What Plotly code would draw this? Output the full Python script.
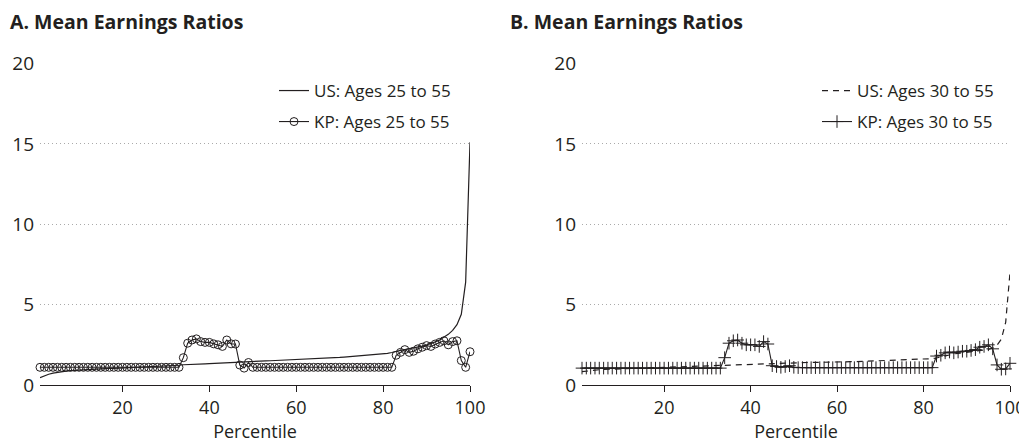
import plotly.graph_objects as go

percentile = list(range(1, 101))

us_25_55 = [0.45, 0.58, 0.67, 0.74, 0.79, 0.83, 0.86, 0.89, 0.91, 0.93,
            0.95, 0.97, 0.98, 1.0, 1.01, 1.02, 1.03, 1.04, 1.05, 1.06,
            1.07, 1.08, 1.09, 1.1, 1.11, 1.13, 1.14, 1.15, 1.16, 1.18,
            1.19, 1.21, 1.23, 1.26, 1.28, 1.29, 1.3, 1.31, 1.32, 1.33,
            1.35, 1.36, 1.37, 1.38, 1.4, 1.41, 1.42, 1.44, 1.45, 1.46,
            1.47, 1.48, 1.5, 1.51, 1.52, 1.53, 1.55, 1.56, 1.57, 1.58,
            1.6, 1.61, 1.62, 1.64, 1.65, 1.66, 1.68, 1.69, 1.71, 1.72,
            1.74, 1.76, 1.77, 1.79, 1.81, 1.83, 1.85, 1.87, 1.9, 1.93,
            1.97, 2.02, 2.1, 2.15, 2.2, 2.25, 2.3, 2.36, 2.42, 2.5,
            2.58, 2.68, 2.8, 2.95, 3.15, 3.4, 3.75, 4.4, 6.4, 15.1]

kp_25_55 = [1.1, 1.1, 1.1, 1.1, 1.1, 1.1, 1.1, 1.1, 1.1, 1.1,
            1.1, 1.1, 1.1, 1.1, 1.1, 1.1, 1.1, 1.1, 1.1, 1.1,
            1.1, 1.1, 1.1, 1.1, 1.1, 1.1, 1.1, 1.1, 1.1, 1.1,
            1.1, 1.1, 1.1, 1.7, 2.6, 2.8, 2.87, 2.7, 2.65, 2.65,
            2.56, 2.5, 2.4, 2.8, 2.56, 2.55, 1.24, 1.05, 1.4, 1.1,
            1.1, 1.1, 1.1, 1.1, 1.1, 1.1, 1.1, 1.1, 1.1, 1.1,
            1.1, 1.1, 1.1, 1.1, 1.1, 1.1, 1.1, 1.1, 1.1, 1.1,
            1.1, 1.1, 1.1, 1.1, 1.1, 1.1, 1.1, 1.1, 1.1, 1.1,
            1.1, 1.1, 1.85, 2.03, 2.2, 2.03, 2.1, 2.25, 2.35, 2.45,
            2.4, 2.55, 2.65, 2.75, 2.5, 2.7, 2.75, 1.52, 1.1, 2.07]

us_30_55 = [0.83, 0.87, 0.9, 0.93, 0.95, 0.97, 0.98, 0.99, 1.0, 1.01,
            1.02, 1.03, 1.04, 1.05, 1.06, 1.07, 1.08, 1.09, 1.1, 1.11,
            1.12, 1.13, 1.14, 1.15, 1.16, 1.17, 1.18, 1.19, 1.2, 1.21,
            1.22, 1.23, 1.24, 1.25, 1.26, 1.27, 1.28, 1.29, 1.3, 1.31,
            1.32, 1.33, 1.34, 1.35, 1.36, 1.36, 1.37, 1.37, 1.38, 1.38,
            1.39, 1.39, 1.4, 1.4, 1.41, 1.41, 1.42, 1.42, 1.43, 1.43,
            1.44, 1.44, 1.45, 1.45, 1.46, 1.46, 1.47, 1.48, 1.48, 1.49,
            1.5, 1.5, 1.51, 1.52, 1.53, 1.54, 1.55, 1.56, 1.57, 1.59,
            1.61, 1.64, 1.68, 1.75, 1.82, 1.88, 1.93, 1.97, 2.0, 2.03,
            2.06, 2.09, 2.12, 2.16, 2.21, 2.3, 2.48, 2.85, 3.9, 7.0]

kp_30_55 = [1.05, 1.05, 1.05, 1.05, 1.05, 1.05, 1.05, 1.05, 1.05, 1.05,
            1.05, 1.05, 1.05, 1.05, 1.05, 1.05, 1.05, 1.05, 1.05, 1.05,
            1.05, 1.05, 1.05, 1.05, 1.05, 1.05, 1.05, 1.05, 1.05, 1.05,
            1.05, 1.05, 1.05, 1.7, 2.6, 2.75, 2.8, 2.6, 2.5, 2.5,
            2.5, 2.4, 2.7, 2.55, 1.2, 1.15, 1.1, 1.15, 1.2, 1.1,
            1.08, 1.08, 1.08, 1.08, 1.08, 1.08, 1.08, 1.08, 1.08, 1.08,
            1.08, 1.08, 1.08, 1.08, 1.08, 1.08, 1.08, 1.08, 1.08, 1.08,
            1.08, 1.08, 1.08, 1.08, 1.08, 1.08, 1.08, 1.08, 1.08, 1.08,
            1.08, 1.08, 1.8, 1.85, 2.0, 2.05, 2.0, 2.05, 2.1, 2.1,
            2.15, 2.2, 2.35, 2.4, 2.5, 2.25, 1.25, 0.98, 1.0, 1.35]

x_ticks = [20, 40, 60, 80, 100]
y_ticks = [0, 5, 10, 15, 20]
titles = ["A. Mean Earnings Ratios", "B. Mean Earnings Ratios"]
names = ["US: Ages 25 to 55", "KP: Ages 25 to 55", "US: Ages 30 to 55", "KP: Ages 30 to 55"]

INK = "#231f20"
FONT = "Open Sans"
OFF = 8                     # page body margin in the browser
W, H = 1027 - OFF, 444 - OFF
# plot area in screen pixels
SL, SR, ST, SB = 40, 1010, 63, 385
L, T = SL - OFF, ST - OFF
R, B = W - (SR - OFF), H - (SB - OFF)
PW, PH = W - L - R, H - T - B


def px_x(p):
    return (p - OFF - L) / PW


def px_y(p):
    return (H - B - (p - OFF)) / PH


fig = go.Figure()

fig.add_trace(go.Scatter(x=percentile, y=us_25_55, mode="lines", name=names[0], cliponaxis=False,
                         line=dict(color=INK, width=1.2), xaxis="x", yaxis="y", legend="legend"))
fig.add_trace(go.Scatter(x=percentile, y=kp_25_55, mode="lines+markers", name=names[1], cliponaxis=False,
                         line=dict(color=INK, width=1.1),
                         marker=dict(symbol="circle-open", size=8, color=INK, line=dict(width=1)),
                         xaxis="x", yaxis="y", legend="legend2"))
fig.add_trace(go.Scatter(x=percentile, y=us_30_55, mode="lines", name=names[2], cliponaxis=False,
                         line=dict(color=INK, width=1.2, dash="6px,5px"), xaxis="x2", yaxis="y2", legend="legend3"))
fig.add_trace(go.Scatter(x=percentile, y=kp_30_55, mode="lines+markers", name=names[3], cliponaxis=False,
                         line=dict(color=INK, width=1.1),
                         marker=dict(symbol="cross-thin", size=9, color=INK, line=dict(width=1, color=INK)),
                         xaxis="x2", yaxis="y2", legend="legend4"))

axis_common = dict(
    range=[1, 100], tickvals=x_ticks, ticks="outside", ticklen=6, tickcolor=INK,
    showline=True, linecolor=INK, linewidth=1.2, showgrid=False, zeroline=False, automargin=False,
    tickfont=dict(family=FONT, size=18, color=INK),
    title=dict(text="Percentile", font=dict(family=FONT, size=18, color=INK), standoff=7),
)
yaxis_common = dict(
    range=[0, 20.03], tickvals=y_ticks, showline=False, ticks="", zeroline=False, automargin=False,
    showgrid=True, gridcolor="#aaaaaa", griddash="1px,3px", gridwidth=1, ticklabelstandoff=5,
    tickfont=dict(family=FONT, size=19, color=INK),
)

legend_common = dict(bgcolor="rgba(0,0,0,0)", borderwidth=0, yanchor="middle", xanchor="left",
                     font=dict(family=FONT, size=17, color=INK), itemwidth=30)

fig.update_layout(
    width=W, height=H, margin=dict(l=L, r=R, t=T, b=B, autoexpand=False),
    paper_bgcolor="white", plot_bgcolor="white",
    xaxis=dict(domain=[0, px_x(470)], anchor="y", **axis_common),
    yaxis=dict(domain=[0, 1], anchor="x", **yaxis_common),
    xaxis2=dict(domain=[px_x(582), 1], anchor="y2", **axis_common),
    yaxis2=dict(domain=[0, 1], anchor="x2", **yaxis_common),
    legend=dict(x=px_x(274), y=px_y(91), **legend_common),
    legend2=dict(x=px_x(274), y=px_y(122), **legend_common),
    legend3=dict(x=px_x(817), y=px_y(91), **legend_common),
    legend4=dict(x=px_x(817), y=px_y(122), **legend_common),
    showlegend=True,
)

for i, (t, xp) in enumerate(zip(titles, [8, 508])):
    fig.add_annotation(text="<b>" + t + "</b>", xref="paper", yref="paper",
                       x=px_x(xp), y=px_y(21.5), xanchor="left", yanchor="middle",
                       showarrow=False, font=dict(family=FONT, size=19.5, color=INK))

fig.write_html("out.html")
